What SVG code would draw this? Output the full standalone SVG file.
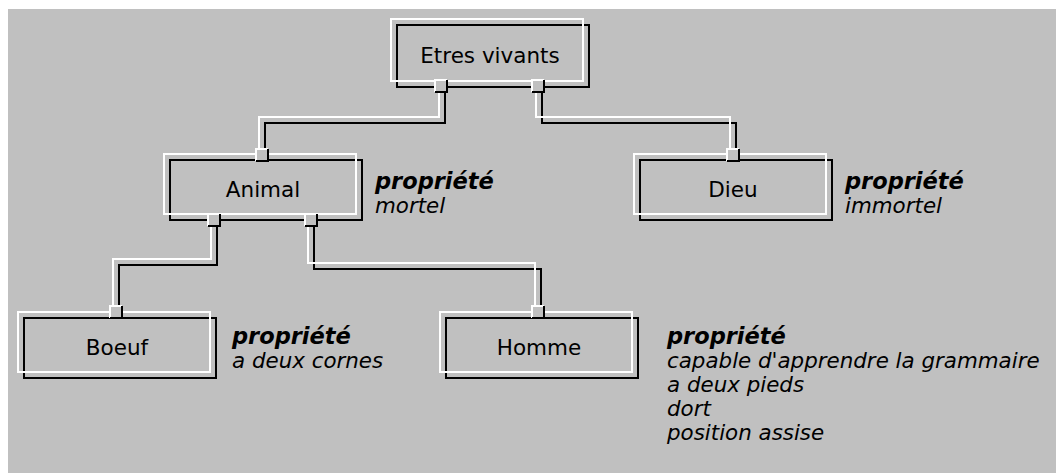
<svg xmlns="http://www.w3.org/2000/svg" width="1056" height="473" viewBox="0 0 1056 473">
<style>
.w{fill:none;stroke:#ffffff;stroke-width:2}
.k{fill:none;stroke:#000000;stroke-width:2}
.lbl{font-family:"DejaVu Sans",Verdana,sans-serif;font-size:21.5px;fill:#000;text-anchor:middle}
.pt{font-family:"DejaVu Sans",Verdana,sans-serif;font-size:22.5px;font-weight:bold;font-style:italic;fill:#000}
.pv{font-family:"DejaVu Sans",Verdana,sans-serif;font-size:21.4px;font-style:italic;fill:#000}
.port{fill:#c0c0c0}
</style>
<defs>
<g id="portShape">
<rect class="port" x="-6" y="-6" width="12" height="12"/>
<polyline class="w" points="-6,6 -6,-6 6,-6"/>
<polyline class="k" points="-6,6 6,6 6,-6"/>
</g>
</defs>
<rect x="0" y="0" width="1056" height="473" fill="#ffffff"/>
<rect x="8" y="9" width="1048" height="464" fill="#c0c0c0"/>

<g id="connectors">
<polyline class="k" points="445,92 445,123 265,123 265,149"/>
<polyline class="w" points="439,92 439,117 259,117 259,149"/>
<polyline class="k" points="542,92 542,123 736,123 736,149"/>
<polyline class="w" points="536,92 536,117 730,117 730,149"/>
<polyline class="k" points="217,226 217,265 119,265 119,306"/>
<polyline class="w" points="211,226 211,259 113,259 113,306"/>
<polyline class="k" points="314,226 314,269 541,269 541,306"/>
<polyline class="w" points="308,226 308,263 535,263 535,306"/>
</g>

<g id="node-etres">
<rect class="k" x="397" y="25" width="192" height="62"/>
<rect class="w" x="391" y="19" width="192" height="62"/>
<text class="lbl" x="490" y="63">Etres vivants</text>
<use href="#portShape" x="441" y="86"/>
<use href="#portShape" x="538" y="86"/>
</g>

<g id="node-animal">
<rect class="k" x="170" y="160" width="192" height="60"/>
<rect class="w" x="164" y="154" width="192" height="60"/>
<text class="lbl" x="263" y="197">Animal</text>
<use href="#portShape" x="262" y="155"/>
<use href="#portShape" x="214" y="220"/>
<use href="#portShape" x="311" y="220"/>
</g>

<g id="node-dieu">
<rect class="k" x="640" y="160" width="192" height="60"/>
<rect class="w" x="634" y="154" width="192" height="60"/>
<text class="lbl" x="733" y="197">Dieu</text>
<use href="#portShape" x="733" y="155"/>
</g>

<g id="node-boeuf">
<rect class="k" x="24" y="318" width="192" height="60"/>
<rect class="w" x="18" y="312" width="192" height="60"/>
<text class="lbl" x="117" y="355">Boeuf</text>
<use href="#portShape" x="116" y="312"/>
</g>

<g id="node-homme">
<rect class="k" x="446" y="318" width="192" height="60"/>
<rect class="w" x="440" y="312" width="192" height="60"/>
<text class="lbl" x="539" y="355">Homme</text>
<use href="#portShape" x="538" y="312"/>
</g>

<g id="prop-animal">
<text class="pt" x="375" y="189">propriété</text>
<text class="pv" x="375" y="213">mortel</text>
</g>
<g id="prop-dieu">
<text class="pt" x="845" y="189">propriété</text>
<text class="pv" x="845" y="213">immortel</text>
</g>
<g id="prop-boeuf">
<text class="pt" x="232" y="344">propriété</text>
<text class="pv" x="232" y="368">a deux cornes</text>
</g>
<g id="prop-homme">
<text class="pt" x="667" y="344">propriété</text>
<text class="pv" x="667" y="368">capable d'apprendre la grammaire</text>
<text class="pv" x="667" y="392">a deux pieds</text>
<text class="pv" x="667" y="416">dort</text>
<text class="pv" x="667" y="440">position assise</text>
</g>
</svg>
